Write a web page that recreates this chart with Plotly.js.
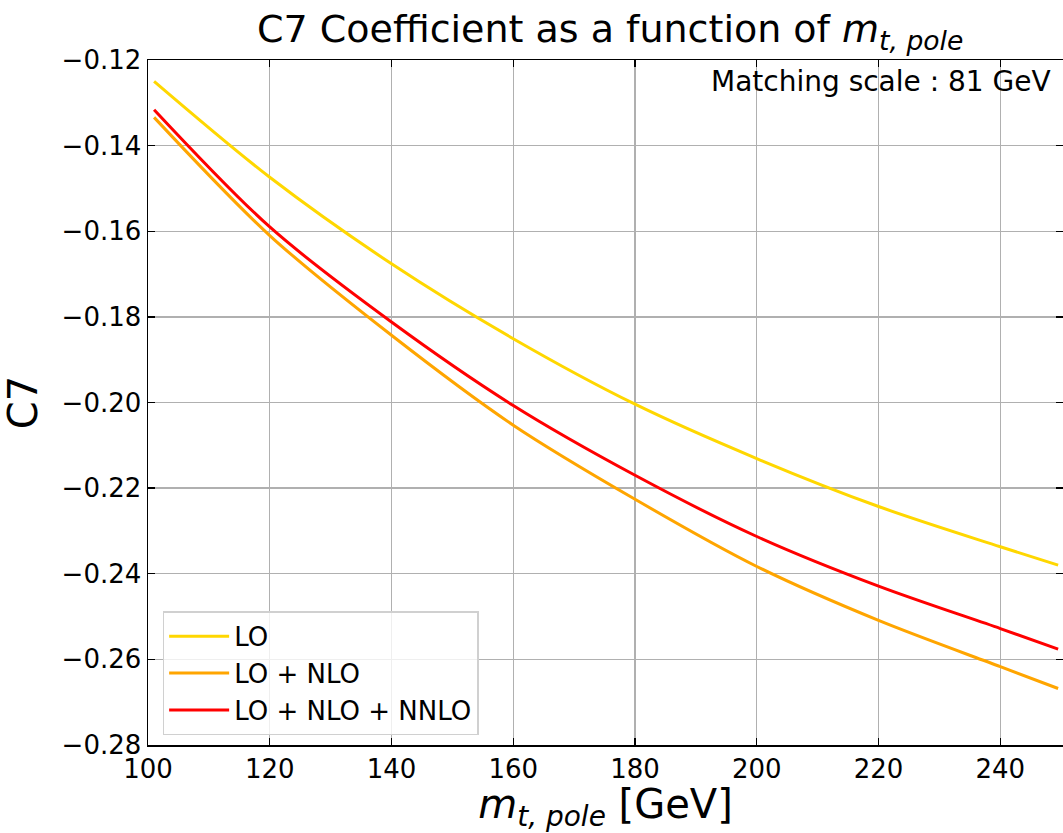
<!DOCTYPE html>
<html>
<head>
<meta charset="utf-8">
<script src="https://cdn.plot.ly/plotly-3.0.1.min.js"></script>
<style>html,body{margin:0;padding:0;background:#fff;}#chart{width:1063px;height:833px;}</style>
</head>
<body>
<div id="chart"></div>
<script>
// Top-quark pole mass [GeV]
const mtPole = [101, 120, 140, 160, 180, 200, 220, 240, 249.5];
// C7 coefficient values
const c7LO = [-0.1250, -0.1474, -0.1676, -0.1851, -0.2004, -0.2131, -0.2243, -0.2337, -0.2380];
const c7NLO = [-0.1334, -0.1610, -0.1843, -0.2053, -0.2226, -0.2383, -0.2509, -0.2617, -0.2668];
const c7NNLO = [-0.1316, -0.1590, -0.1812, -0.2007, -0.2170, -0.2313, -0.2429, -0.2528, -0.2576];
const seriesNames = ["LO", "LO + NLO", "LO + NLO + NNLO"];
const seriesColors = ["#FFD700", "#FFA500", "#FF0000"];
const xTicks = [100, 120, 140, 160, 180, 200, 220, 240];
const yTicks = [-0.12, -0.14, -0.16, -0.18, -0.20, -0.22, -0.24, -0.26, -0.28];

const ys = [c7LO, c7NLO, c7NNLO];
const traces = ys.map((y, i) => ({
  x: mtPole, y: y, type: 'scatter', mode: 'lines', name: seriesNames[i],
  line: {color: seriesColors[i], width: 3, shape: 'spline', smoothing: 0.9}
}));

const font = "DejaVu Sans, sans-serif";
const layout = {
  width: 1063, height: 833,
  margin: {l: 148, r: 0, t: 60, b: 88},
  paper_bgcolor: '#fff', plot_bgcolor: '#fff',
  font: {family: font, color: '#000'},
  title: {text: "C7 Coefficient as a function of <i>m</i><sub><i>t, pole</i></sub>",
          font: {family: font, size: 38, color: '#000'}, x: 0.574, xanchor: 'center',
          yref: 'container', y: 0.982, yanchor: 'top'},
  xaxis: {
    range: [100, 250.3], tickvals: xTicks, ticktext: xTicks.map(String),
    showgrid: true, gridcolor: '#b0b0b0', gridwidth: 1.4,
    showline: true, linecolor: '#000', linewidth: 1.5, mirror: 'allticks',
    ticks: 'inside', ticklen: 7, tickwidth: 1.4, tickcolor: '#000',
    tickfont: {family: font, size: 26, color: '#000'}, zeroline: false,
    title: {text: "<i>m</i><sub><i>t, pole</i></sub> [GeV]", font: {family: font, size: 40, color: '#000'}, standoff: 12}
  },
  yaxis: {
    range: [-0.28, -0.12], tickvals: yTicks, tickformat: '.2f',
    showgrid: true, gridcolor: '#b0b0b0', gridwidth: 1.4,
    showline: true, linecolor: '#000', linewidth: 1.5, mirror: 'allticks',
    ticks: 'inside', ticklen: 7, tickwidth: 1.4, tickcolor: '#000',
    tickfont: {family: font, size: 26, color: '#000'}, zeroline: false,
    title: {text: "C7", font: {family: font, size: 40, color: '#000'}, standoff: 12}
  },
  showlegend: true,
  legend: {
    x: 0.016, y: 0.014, xanchor: 'left', yanchor: 'bottom',
    bgcolor: 'rgba(255,255,255,0.8)', bordercolor: '#d0d0d0', borderwidth: 1.5,
    font: {family: font, size: 26, color: '#000'}, tracegroupgap: 0, itemwidth: 60
  },
  annotations: [{
    text: "Matching scale : 81 GeV", xref: 'paper', yref: 'paper', x: 0.989, y: 0.996,
    xanchor: 'right', yanchor: 'top', showarrow: false,
    font: {family: font, size: 28, color: '#000'}
  }]
};
Plotly.newPlot('chart', traces, layout, {displayModeBar: false, staticPlot: true});
</script>
</body>
</html>
